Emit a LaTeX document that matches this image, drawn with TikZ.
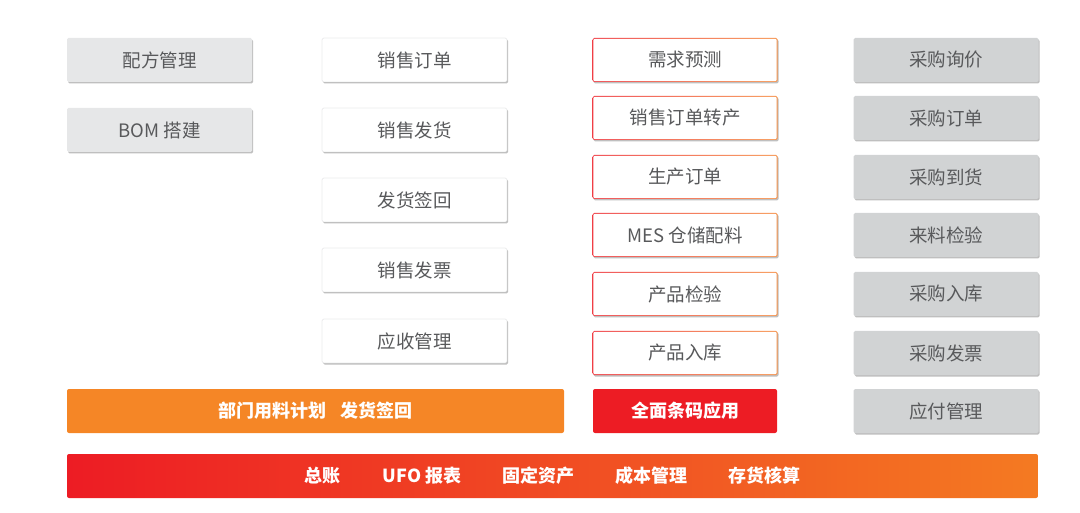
\documentclass[tikz,border=0pt]{standalone}
\usepackage{fontspec}
\setmainfont{Noto Sans CJK SC}
\usepackage{tikz}
\usetikzlibrary{shadows}
\definecolor{txtgray}{HTML}{58595B}
\definecolor{lightgray}{HTML}{E6E7E8}
\definecolor{midgray}{HTML}{D1D3D4}
\definecolor{linegray}{HTML}{C7C8CA}
\definecolor{barorange}{HTML}{F58626}
\definecolor{barred}{HTML}{ED1C24}
\definecolor{endorange}{HTML}{F47A22}
\tikzset{
    box/.style = {rectangle, rounded corners=1.5pt, minimum width=185pt, minimum height=44pt, inner sep=0pt,
                  font=\fontsize{18.5}{22}\selectfont, text=txtgray,
                  drop shadow={shadow xshift=1.2pt, shadow yshift=-1.5pt, opacity=0.25, fill=black}},
    light_box/.style = {box, fill=lightgray},
    white_box/.style = {box, fill=white, draw=linegray, very thin},
    gray_box/.style = {box, fill=midgray},
    line_box/.style = {box, left color=barred!85, right color=endorange!80,
                       path picture={\fill[white, rounded corners=1pt]
                           ([shift={(0.9pt,0.9pt)}]path picture bounding box.south west) rectangle
                           ([shift={(-0.9pt,-0.9pt)}]path picture bounding box.north east);}},
    bar/.style = {rectangle, rounded corners=2pt, minimum height=44pt, inner sep=0pt,
                  font=\fontsize{18}{22}\selectfont\bfseries, text=white}
}

\begin{document}
\begin{tikzpicture}[x=1pt, y=-1pt]
    \useasboundingbox (0,0) rectangle (1080,513);
    % left
    \node [light_box] (peifang) at (159.5,60) {配方管理};
    \node [light_box] (bom) at (159.5,130) {BOM 搭建};
    % sales
    \node [white_box] (xsdd) at (414.5,60) {销售订单};
    \node [white_box] (xsfh) at (414.5,130) {销售发货};
    \node [white_box] (fhqh) at (414.5,200) {发货签回};
    \node [white_box] (xsfp) at (414.5,270) {销售发票};
    \node [white_box] (yssl) at (414.5,341) {应收管理};
    % production
    \node [line_box] (xqyc) at (685,60) {需求预测};
    \node [line_box] (ddzc) at (685,118) {销售订单转产};
    \node [line_box] (scdd) at (685,177) {生产订单};
    \node [line_box] (mes) at (685,235) {MES 仓储配料};
    \node [line_box] (cpjy) at (685,294) {产品检验};
    \node [line_box] (cprk) at (685,353) {产品入库};
    % purchase
    \node [gray_box] (cgxj) at (946,60) {采购询价};
    \node [gray_box] (cgdd) at (946,118) {采购订单};
    \node [gray_box] (cgdh) at (946,177) {采购到货};
    \node [gray_box] (lljy) at (946,235) {来料检验};
    \node [gray_box] (cgrk) at (946,294) {采购入库};
    \node [gray_box] (cgfp) at (946,353) {采购发票};
    \node [gray_box] (yfgl) at (946,411) {应付管理};
    % bars
    \node [bar, fill=barorange, minimum width=497pt] (bmyl) at (315.5,411) {部门用料计划\hspace{14pt}发货签回};
    \node [bar, fill=barred, minimum width=184pt] (tmyy) at (685,411) {全面条码应用};
    \node [bar, left color=barred, right color=endorange, minimum width=971pt] (caiwu) at (552.5,476)
        {总账\hspace{42pt}UFO 报表\hspace{41pt}固定资产\hspace{41pt}成本管理\hspace{41pt}存货核算};
\end{tikzpicture}
\end{document}
